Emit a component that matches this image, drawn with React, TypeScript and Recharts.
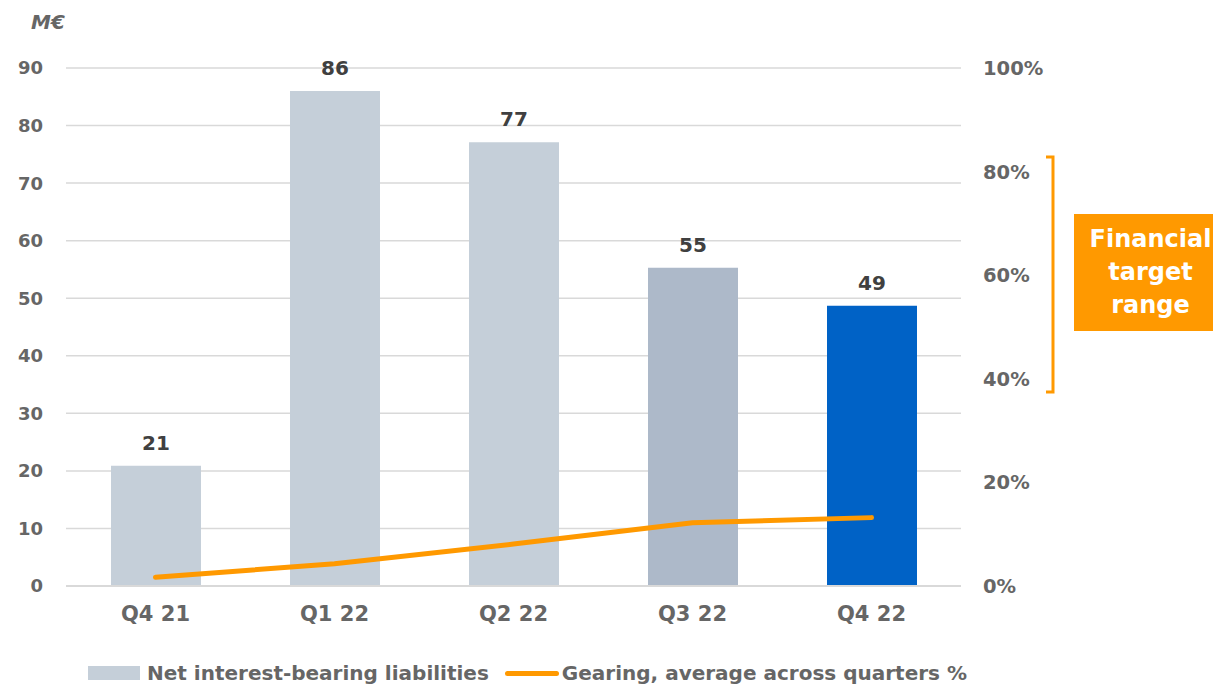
import React from "react";
import {
  ComposedChart,
  Bar,
  Line,
  XAxis,
  YAxis,
  CartesianGrid,
  Legend,
  LabelList,
  Cell,
} from "recharts";

const quarters = ["Q4 21", "Q1 22", "Q2 22", "Q3 22", "Q4 22"];
const liabilities = [20.9, 86, 77.1, 55.3, 48.7];
const gearing = [1.7, 4.3, 8.1, 12.2, 13.2];
const barColors = ["#C5CFD9", "#C5CFD9", "#C5CFD9", "#ADB9C9", "#0062C6"];
const leftTicks = [0, 10, 20, 30, 40, 50, 60, 70, 80, 90];
const rightTicks = [0, 20, 40, 60, 80, 100];

const data = quarters.map((q, i) => ({
  quarter: q,
  liabilities: liabilities[i],
  gearing: gearing[i],
}));

const FONT = "'DejaVu Sans', sans-serif";
const GREY = "#666666";
const ORANGE = "#FF9900";

const tickStyle = { fontSize: 18, fontWeight: 700, fill: GREY, fontFamily: FONT };

function LegendContent() {
  return (
    <div
      style={{
        display: "flex",
        alignItems: "center",
        fontFamily: FONT,
        fontWeight: 700,
        fontSize: 20,
        color: GREY,
        paddingLeft: 88,
      }}
    >
      <span style={{ width: 52, height: 14, background: "#C5CFD9", marginRight: 7 }} />
      <span>Net interest-bearing liabilities</span>
      <span
        style={{
          width: 54,
          height: 5,
          borderRadius: 3,
          background: ORANGE,
          marginLeft: 16,
          marginRight: 3,
        }}
      />
      <span>Gearing, average across quarters %</span>
    </div>
  );
}

export default function App() {
  return (
    <div style={{ position: "absolute", left: 0, top: 0, width: 1213, height: 686, background: "#fff" }}>
      <div
        style={{
          position: "absolute",
          left: 31,
          top: 10,
          fontFamily: FONT,
          fontWeight: 700,
          fontStyle: "italic",
          fontSize: 20,
          color: GREY,
        }}
      >
        M€
      </div>

      <ComposedChart
        width={1213}
        height={686}
        data={data}
        margin={{ top: 68, right: 152, bottom: 70, left: 0 }}
      >
        <CartesianGrid yAxisId="left" vertical={false} stroke="#D9D9D9" strokeWidth={1.5} />
        <XAxis
          dataKey="quarter"
          tickLine={false}
          axisLine={{ stroke: "#D9D9D9", strokeWidth: 2 }}
          tick={{ ...tickStyle, fontSize: 21 }}
          tickMargin={14}
        />
        <YAxis
          yAxisId="left"
          width={66}
          domain={[0, 90]}
          ticks={leftTicks}
          axisLine={false}
          tickLine={false}
          tickSize={0}
          tickMargin={23}
          tick={tickStyle}
        />
        <YAxis
          yAxisId="right"
          orientation="right"
          width={100}
          domain={[0, 100]}
          ticks={rightTicks}
          axisLine={false}
          tickLine={false}
          tickSize={0}
          tickMargin={22}
          tick={{ ...tickStyle, fontSize: 19.5 }}
          tickFormatter={(v) => `${v}%`}
        />

        {/* LEGEND */}
        <Legend
          verticalAlign="middle"
          content={<LegendContent />}
          wrapperStyle={{ top: 661, left: 0, width: 1213, height: 28 }}
        />

        <Bar
          yAxisId="left"
          dataKey="liabilities"
          barSize={90}
          isAnimationActive={false}
          name="Net interest-bearing liabilities"
        >
          {data.map((d, i) => (
            <Cell key={d.quarter} fill={barColors[i]} />
          ))}
          <LabelList
            dataKey="liabilities"
            position="top"
            offset={16}
            formatter={(v: number) => Math.round(v)}
            style={{ fontSize: 20, fontWeight: 700, fill: "#404040", fontFamily: FONT }}
          />
        </Bar>
        <Line
          yAxisId="right"
          dataKey="gearing"
          type="linear"
          stroke={ORANGE}
          strokeWidth={5}
          strokeLinecap="round"
          dot={false}
          activeDot={false}
          isAnimationActive={false}
          name="Gearing, average across quarters %"
        />
      </ComposedChart>

      {/* target range bracket */}
      <svg
        width={20}
        height={240}
        style={{ position: "absolute", left: 1044, top: 155 }}
      >
        <path d="M2 2 H9 V237 H2" fill="none" stroke={ORANGE} strokeWidth={3} />
      </svg>
      <div
        style={{
          position: "absolute",
          left: 1074,
          top: 214,
          width: 139,
          height: 117,
          paddingLeft: 14,
          boxSizing: "border-box",
          background: ORANGE,
          color: "#fff",
          fontFamily: FONT,
          fontWeight: 700,
          fontSize: 24,
          lineHeight: "33px",
          textAlign: "center",
          whiteSpace: "nowrap",
          display: "flex",
          flexDirection: "column",
          justifyContent: "center",
        }}
      >
        <div>Financial</div>
        <div>target</div>
        <div>range</div>
      </div>
    </div>
  );
}
